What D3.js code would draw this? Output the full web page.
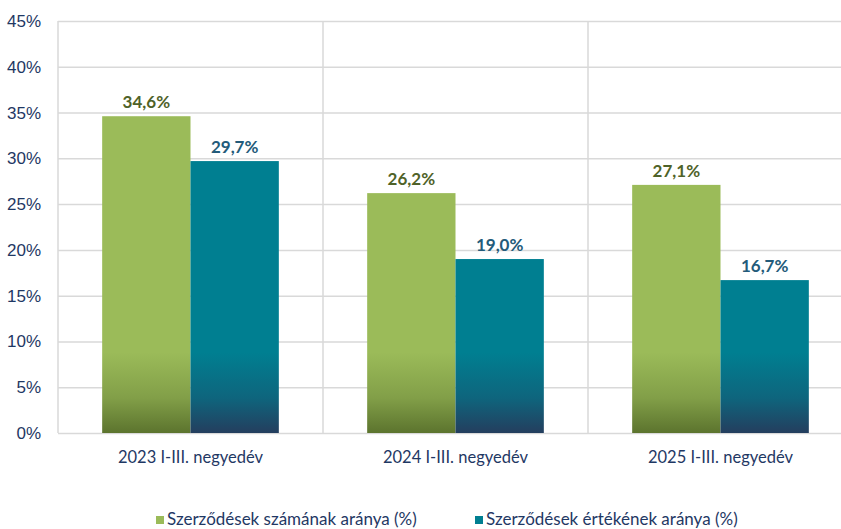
<!DOCTYPE html>
<html>
<head>
<meta charset="utf-8">
<script src="https://cdn.jsdelivr.net/npm/d3@7"></script>
<style>
  html, body { margin: 0; padding: 0; background: #fff; }
  svg { display: block; font-family: Lato, "Liberation Sans", sans-serif; }
</style>
</head>
<body>
<svg id="chart" width="841" height="529"></svg>
<script>
// data
let categories = ["2023 I-III. negyedév", "2024 I-III. negyedév", "2025 I-III. negyedév"];
let seriesNames = ["Szerződések számának aránya (%)", "Szerződések értékének aránya (%)"];
let countShare = [34.6, 26.2, 27.1];
let valueShare = [29.7, 19.0, 16.7];
let yTicks = [0, 5, 10, 15, 20, 25, 30, 35, 40, 45];

let kChart = { x: 58, y: 21, w: 795, h: 412 };

let kColors = {
  grid: "#d9d9d9",
  axisText: "#1f3864",
  green: "#9bbb59",
  greenDark: "#5c742e",
  teal: "#007f91",
  tealDark: "#243e5e",
  greenLabel: "#4f6228",
  tealLabel: "#235b7a"
};

let svg = d3.select("#chart");

let x = d3.scaleBand()
  .domain(categories)
  .range([kChart.x, kChart.x + kChart.w])
  .paddingInner(0).paddingOuter(0);

let xSub = d3.scaleBand()
  .domain(seriesNames)
  .range([0, x.bandwidth()])
  .paddingInner(0).paddingOuter(0.5);

let y = d3.scaleLinear()
  .domain([0, 45])
  .range([kChart.y + kChart.h, kChart.y]);

// gradients, fixed near the bottom of the plot like in the original
let defs = svg.append("defs");
function addGradient(id, top, bottom) {
  let g = defs.append("linearGradient")
    .attr("id", id)
    .attr("gradientUnits", "userSpaceOnUse")
    .attr("x1", 0).attr("x2", 0)
    .attr("y1", y(11)).attr("y2", y(0));
  g.append("stop").attr("offset", "0%").attr("stop-color", top);
  g.append("stop").attr("offset", "20%").attr("stop-color", top);
  g.append("stop").attr("offset", "65%").attr("stop-color", d3.interpolateRgb(top, bottom)(0.4));
  g.append("stop").attr("offset", "100%").attr("stop-color", bottom);
}
addGradient("gradGreen", kColors.green, kColors.greenDark);
addGradient("gradTeal", kColors.teal, kColors.tealDark);

// horizontal grid + y labels
let yAxis = d3.axisLeft(y).tickValues(yTicks).tickSize(-kChart.w)
  .tickFormat(d => d + "%").tickPadding(16);
let gy = svg.append("g")
  .attr("transform", "translate(" + kChart.x + ",0)")
  .call(yAxis);
gy.select(".domain").remove();
gy.selectAll(".tick line").attr("stroke", kColors.grid).attr("stroke-width", 1.5);
gy.selectAll(".tick text")
  .attr("fill", kColors.axisText)
  .attr("font-size", 17)
  .attr("text-anchor", "end")
  .attr("x", -17);

// vertical grid lines (left axis + category boundaries)
let boundaries = categories.map(c => x(c)).concat([x(categories[categories.length - 1]) + x.bandwidth()]);
svg.append("g").selectAll("line")
  .data(boundaries)
  .join("line")
  .attr("x1", d => d).attr("x2", d => d)
  .attr("y1", y(45)).attr("y2", y(0))
  .attr("stroke", kColors.grid)
  .attr("stroke-width", 1.5);

// bars
let rows = categories.map((c, i) => ({ cat: c, vals: [countShare[i], valueShare[i]] }));
let fills = ["url(#gradGreen)", "url(#gradTeal)"];
let labelColors = [kColors.greenLabel, kColors.tealLabel];

let groups = svg.append("g").selectAll("g")
  .data(rows)
  .join("g")
  .attr("transform", d => "translate(" + x(d.cat) + ",0)");

groups.selectAll("rect")
  .data(d => d.vals.map((v, k) => ({ name: seriesNames[k], v: v, k: k })))
  .join("rect")
  .attr("x", d => xSub(d.name))
  .attr("width", xSub.bandwidth())
  .attr("y", d => y(d.v))
  .attr("height", d => y(0) - y(d.v))
  .attr("fill", d => fills[d.k]);

groups.selectAll("text.val")
  .data(d => d.vals.map((v, k) => ({ name: seriesNames[k], v: v, k: k })))
  .join("text")
  .attr("class", "val")
  .attr("x", d => xSub(d.name) + xSub.bandwidth() / 2)
  .attr("y", d => y(d.v) - 8)
  .attr("text-anchor", "middle")
  .attr("font-size", 17)
  .attr("font-weight", "bold")
  .attr("fill", d => labelColors[d.k])
  .text(d => d.v.toFixed(1).replace(".", ",") + "%");

// category labels
svg.append("g").selectAll("text")
  .data(categories)
  .join("text")
  .attr("x", d => x(d) + x.bandwidth() / 2)
  .attr("y", y(0) + 30)
  .attr("text-anchor", "middle")
  .attr("font-size", 16.5)
  .attr("fill", kColors.axisText)
  .text(d => d);

// legend
let legendX = [156, 475];
let legend = svg.append("g").selectAll("g")
  .data(seriesNames)
  .join("g")
  .attr("transform", (d, i) => "translate(" + legendX[i] + ",516)");
legend.append("rect")
  .attr("width", 8).attr("height", 8)
  .attr("fill", (d, i) => [kColors.green, kColors.teal][i]);
legend.append("text")
  .attr("x", 11).attr("y", 9)
  .attr("font-size", 17)
  .attr("fill", kColors.axisText)
  .text(d => d);
</script>
</body>
</html>
